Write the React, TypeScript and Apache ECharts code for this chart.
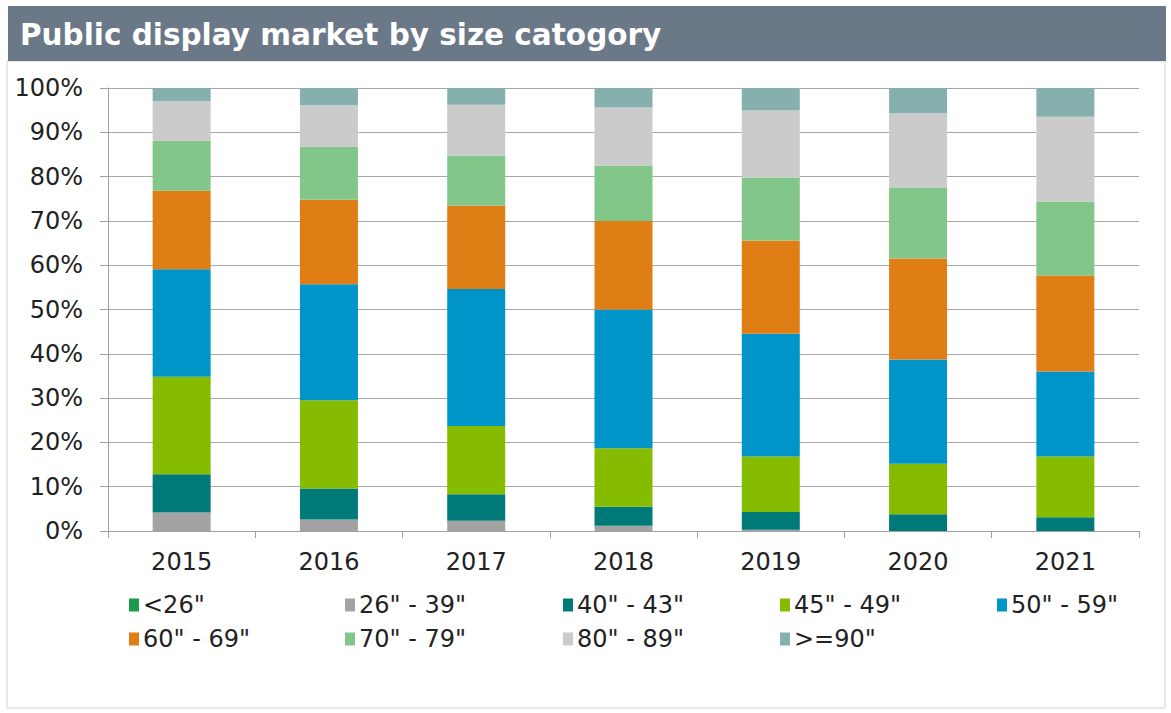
import React, { useEffect, useRef } from "react";
import * as echarts from "echarts";

const categories = ["2015", "2016", "2017", "2018", "2019", "2020", "2021"];
const seriesNames = ['<26"', '26" - 39"', '40" - 43"', '45" - 49"', '50" - 59"', '60" - 69"', '70" - 79"', '80" - 89"', '>=90"'];
const lt26 = [0, 0, 0, 0, 0, 0, 0];
const s26to39 = [4.2, 2.6, 2.3, 1.2, 0.3, 0, 0];
const s40to43 = [8.6, 7.0, 6.0, 4.3, 4.0, 3.8, 3.1];
const s45to49 = [22.0, 19.9, 15.4, 13.2, 12.5, 11.4, 13.7];
const s50to59 = [24.3, 26.2, 30.9, 31.3, 27.7, 23.5, 19.2];
const s60to69 = [17.7, 19.1, 18.9, 20.0, 21.1, 22.8, 21.7];
const s70to79 = [11.3, 12.0, 11.2, 12.5, 14.2, 15.9, 16.7];
const s80to89 = [8.9, 9.3, 11.5, 13.1, 15.1, 16.9, 19.1];
const s90plus = [3.0, 3.9, 3.8, 4.4, 5.1, 5.7, 6.5];
const yTicks = [0, 10, 20, 30, 40, 50, 60, 70, 80, 90, 100];

const seriesData = [lt26, s26to39, s40to43, s45to49, s50to59, s60to69, s70to79, s80to89, s90plus];
const colors = ["#1a9a4a", "#a3a3a3", "#007a78", "#86bc00", "#0095c8", "#e07e16", "#82c68a", "#cbcbcb", "#85b0ae"];

const FONT = "DejaVu Sans";
const legendLefts = [124, 340, 558, 775, 992];
const legendTops = [588, 622];

export default function App() {
  const ref = useRef<HTMLDivElement>(null);
  useEffect(() => {
    if (!ref.current) return;
    const chart = echarts.init(ref.current, null, { renderer: "svg" });
    const legends = seriesNames.map((name, i) => ({
      icon: "rect",
      itemWidth: 10,
      itemHeight: 13,
      itemGap: 0,
      left: legendLefts[i % 5],
      top: legendTops[Math.floor(i / 5)],
      selectedMode: false,
      textStyle: { fontFamily: FONT, fontSize: 24, color: "#222", padding: [0, 0, 0, -1] },
      data: [name],
    }));
    chart.setOption({
      animation: false,
      color: colors,
      graphic: [
        { type: "rect", silent: true, z: -10, shape: { x: 7, y: 61, width: 1158, height: 647 }, style: { fill: "#fff", stroke: "#cfcfcf", lineWidth: 1 } },
        { type: "rect", silent: true, shape: { x: 8, y: 6, width: 1158, height: 55 }, style: { fill: "#6b7887" } },
        { type: "text", silent: true, x: 20, y: 35, style: { text: "Public display market by size catogory", fill: "#ffffff", font: `bold 29.5px '${FONT}'`, verticalAlign: "middle" } },
      ],
      legend: legends,
      grid: { left: 108, right: 32, top: 88, bottom: 182, containLabel: false },
      xAxis: {
        type: "category",
        data: categories,
        axisLine: { lineStyle: { color: "#a0a0a0", width: 1 } },
        axisTick: { show: true, length: 7, lineStyle: { color: "#a0a0a0" } },
        axisLabel: { fontFamily: FONT, fontSize: 24, color: "#222", margin: 19 },
      },
      yAxis: {
        type: "value",
        min: 0,
        max: 100,
        interval: 10,
        axisLine: { show: true, lineStyle: { color: "#a0a0a0", width: 1 } },
        axisTick: { show: true, length: 8, lineStyle: { color: "#a0a0a0" } },
        axisLabel: {
          fontFamily: FONT,
          fontSize: 24,
          color: "#222",
          margin: 25,
          formatter: (v: number) => (yTicks.includes(v) ? `${v}%` : ""),
        },
        splitLine: { lineStyle: { color: "#a8a8a8", width: 1 } },
      },
      series: seriesNames.map((name, i) => ({
        name,
        type: "bar",
        stack: "total",
        barWidth: 58,
        data: seriesData[i],
        itemStyle: { color: colors[i] },
      })),
    });
    return () => chart.dispose();
  }, []);
  return (
    <div
      ref={ref}
      style={{ position: "absolute", left: 0, top: 0, width: 1171, height: 713, background: "#fff" }}
    />
  );
}
